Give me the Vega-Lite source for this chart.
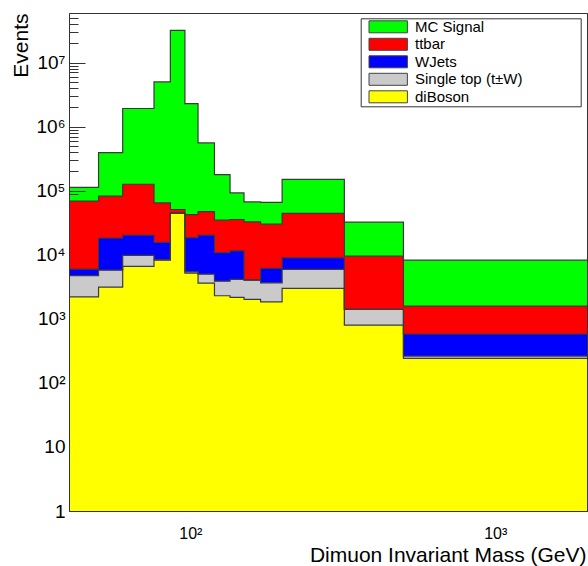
{
  "$schema": "https://vega.github.io/schema/vega-lite/v6.json",
  "width": 518,
  "height": 498,
  "autosize": {"type": "none"},
  "padding": {"left": 69, "top": 13, "right": 1, "bottom": 55},
  "background": "white",
  "datasets": {
    "processes": [
      {"process": "diBoson", "layer": 1},
      {"process": "Single top (t±W)", "layer": 2},
      {"process": "WJets", "layer": 3},
      {"process": "ttbar", "layer": 4},
      {"process": "MC Signal", "layer": 5}
    ],
    "bins": [
      {"lo": 40, "hi": 50, "process": "diBoson", "events": 2200},
      {"lo": 40, "hi": 50, "process": "Single top (t±W)", "events": 2520},
      {"lo": 40, "hi": 50, "process": "WJets", "events": 1240},
      {"lo": 40, "hi": 50, "process": "ttbar", "events": 62640},
      {"lo": 40, "hi": 50, "process": "MC Signal", "events": 44400},
      {"lo": 50, "hi": 60, "process": "diBoson", "events": 3120},
      {"lo": 50, "hi": 60, "process": "Single top (t±W)", "events": 2630},
      {"lo": 50, "hi": 60, "process": "WJets", "events": 12450},
      {"lo": 50, "hi": 60, "process": "ttbar", "events": 63800},
      {"lo": 50, "hi": 60, "process": "MC Signal", "events": 312000},
      {"lo": 60, "hi": 76, "process": "diBoson", "events": 6570},
      {"lo": 60, "hi": 76, "process": "Single top (t±W)", "events": 3180},
      {"lo": 60, "hi": 76, "process": "WJets", "events": 10450},
      {"lo": 60, "hi": 76, "process": "ttbar", "events": 105800},
      {"lo": 60, "hi": 76, "process": "MC Signal", "events": 1794000},
      {"lo": 76, "hi": 86, "process": "diBoson", "events": 8240},
      {"lo": 76, "hi": 86, "process": "Single top (t±W)", "events": 160},
      {"lo": 76, "hi": 86, "process": "WJets", "events": 7200},
      {"lo": 76, "hi": 86, "process": "ttbar", "events": 48900},
      {"lo": 76, "hi": 86, "process": "MC Signal", "events": 4915500},
      {"lo": 86, "hi": 96, "process": "diBoson", "events": 44100},
      {"lo": 86, "hi": 96, "process": "Single top (t±W)", "events": 300},
      {"lo": 86, "hi": 96, "process": "WJets", "events": 700},
      {"lo": 86, "hi": 96, "process": "ttbar", "events": 5800},
      {"lo": 86, "hi": 96, "process": "MC Signal", "events": 31849100},
      {"lo": 96, "hi": 106, "process": "diBoson", "events": 5160},
      {"lo": 96, "hi": 106, "process": "Single top (t±W)", "events": 250},
      {"lo": 96, "hi": 106, "process": "WJets", "events": 13090},
      {"lo": 96, "hi": 106, "process": "ttbar", "events": 23700},
      {"lo": 96, "hi": 106, "process": "MC Signal", "events": 2247800},
      {"lo": 106, "hi": 120, "process": "diBoson", "events": 3600},
      {"lo": 106, "hi": 120, "process": "Single top (t±W)", "events": 1380},
      {"lo": 106, "hi": 120, "process": "WJets", "events": 15220},
      {"lo": 106, "hi": 120, "process": "ttbar", "events": 26800},
      {"lo": 106, "hi": 120, "process": "MC Signal", "events": 510000},
      {"lo": 120, "hi": 135, "process": "diBoson", "events": 2290},
      {"lo": 120, "hi": 135, "process": "Single top (t±W)", "events": 1580},
      {"lo": 120, "hi": 135, "process": "WJets", "events": 6930},
      {"lo": 120, "hi": 135, "process": "ttbar", "events": 23900},
      {"lo": 120, "hi": 135, "process": "MC Signal", "events": 143300},
      {"lo": 135, "hi": 150, "process": "diBoson", "events": 2160},
      {"lo": 135, "hi": 150, "process": "Single top (t±W)", "events": 1960},
      {"lo": 135, "hi": 150, "process": "WJets", "events": 7380},
      {"lo": 135, "hi": 150, "process": "ttbar", "events": 24000},
      {"lo": 135, "hi": 150, "process": "MC Signal", "events": 56900},
      {"lo": 150, "hi": 170, "process": "diBoson", "events": 2010},
      {"lo": 150, "hi": 170, "process": "Single top (t±W)", "events": 2000},
      {"lo": 150, "hi": 170, "process": "WJets", "events": 50},
      {"lo": 150, "hi": 170, "process": "ttbar", "events": 28540},
      {"lo": 150, "hi": 170, "process": "MC Signal", "events": 34300},
      {"lo": 170, "hi": 200, "process": "diBoson", "events": 1840},
      {"lo": 170, "hi": 200, "process": "Single top (t±W)", "events": 1810},
      {"lo": 170, "hi": 200, "process": "WJets", "events": 2460},
      {"lo": 170, "hi": 200, "process": "ttbar", "events": 23890},
      {"lo": 170, "hi": 200, "process": "MC Signal", "events": 35500},
      {"lo": 200, "hi": 320, "process": "diBoson", "events": 2980},
      {"lo": 200, "hi": 320, "process": "Single top (t±W)", "events": 2920},
      {"lo": 200, "hi": 320, "process": "WJets", "events": 3050},
      {"lo": 200, "hi": 320, "process": "ttbar", "events": 35150},
      {"lo": 200, "hi": 320, "process": "MC Signal", "events": 105900},
      {"lo": 320, "hi": 500, "process": "diBoson", "events": 797},
      {"lo": 320, "hi": 500, "process": "Single top (t±W)", "events": 603},
      {"lo": 320, "hi": 500, "process": "WJets", "events": 10},
      {"lo": 320, "hi": 500, "process": "ttbar", "events": 8100},
      {"lo": 320, "hi": 500, "process": "MC Signal", "events": 22790},
      {"lo": 500, "hi": 2000, "process": "diBoson", "events": 241},
      {"lo": 500, "hi": 2000, "process": "Single top (t±W)", "events": 21},
      {"lo": 500, "hi": 2000, "process": "WJets", "events": 315},
      {"lo": 500, "hi": 2000, "process": "ttbar", "events": 1003},
      {"lo": 500, "hi": 2000, "process": "MC Signal", "events": 6660}
    ]
  },
  "data": {"name": "bins"},
  "transform": [
    {"lookup": "process", "from": {"data": {"name": "processes"}, "key": "process", "fields": ["layer"]}},
    {"window": [{"op": "sum", "field": "events", "as": "stacked"}], "groupby": ["lo"], "sort": [{"field": "layer", "order": "ascending"}], "frame": [null, 0]},
    {"fold": ["lo", "hi"], "as": ["edge", "mass"]}
  ],
  "encoding": {
    "x": {
      "field": "mass", "type": "quantitative",
      "scale": {"type": "log", "domain": [40, 2000], "nice": false},
      "title": "Dimuon Invariant Mass (GeV)",
      "axis": {
        "values": [100, 1000],
        "labelExpr": "datum.value == 100 ? '10²' : '10³'",
        "ticks": false, "domain": true, "domainColor": "#333", "domainWidth": 1, "zindex": 1,
        "grid": false,
        "labelFont": "Liberation Sans", "labelFontSize": 16, "labelColor": "#000",
        "labelBaseline": "alphabetic", "labelPadding": 27,
        "titleFont": "Liberation Sans", "titleFontSize": 21, "titleFontWeight": "normal", "titleColor": "#000",
        "titleAlign": "right", "titleBaseline": "alphabetic", "titleX": 517, "titleY": 50
      }
    },
    "order": [{"field": "mass"}, {"field": "edge"}]
  },
  "layer": [
    {
      "transform": [{"filter": {"field": "process", "equal": "MC Signal"}}],
      "mark": {"type": "area"},
      "encoding": {
        "y": {
          "field": "stacked", "type": "quantitative", "stack": null,
          "scale": {"type": "log", "domain": [1, 59400000], "nice": false},
          "title": "Events",
          "axis": {
            "values": [1,2,3,4,5,6,7,8,9,10,20,30,40,50,60,70,80,90,100,200,300,400,500,600,700,800,900,1000,2000,3000,4000,5000,6000,7000,8000,9000,10000,20000,30000,40000,50000,60000,70000,80000,90000,100000,200000,300000,400000,500000,600000,700000,800000,900000,1000000,2000000,3000000,4000000,5000000,6000000,7000000,8000000,9000000,10000000,20000000,30000000,40000000,50000000],
            "labelExpr": "indexof([1,10,100,1000,10000,100000,1000000,10000000], datum.value) < 0 ? '' : ['1','10','10²','10³','10⁴','10⁵','10⁶','10⁷'][indexof([1,10,100,1000,10000,100000,1000000,10000000], datum.value)]",
            "tickSize": {"condition": {"test": "indexof([1,10,100,1000,10000,100000,1000000,10000000], datum.value) >= 0", "value": -16}, "value": -9},
            "tickOpacity": {"condition": {"test": "datum.value >= 90000", "value": 1}, "value": 0},
            "tickColor": "#333", "tickWidth": 1,
            "domain": true, "domainColor": "#333", "domainWidth": 1, "zindex": 1,
            "grid": false, "labelOverlap": false,
            "labelFont": "Liberation Sans", "labelFontSize": 19, "labelColor": "#000",
            "labelPadding": 20, "labelBaseline": "middle",
            "titleFont": "Liberation Sans", "titleFontSize": 21, "titleFontWeight": "normal", "titleColor": "#000",
            "titleAngle": -90, "titleAlign": "right", "titleBaseline": "middle", "titleX": -48, "titleY": 0
          }
        },
        "y2": {"datum": 1},
        "color": {
          "field": "process", "type": "nominal",
          "scale": {
            "domain": ["MC Signal", "ttbar", "WJets", "Single top (t±W)", "diBoson"],
            "range": ["#00ff00", "#ff0000", "#0000ff", "#cacaca", "#ffff00"]
          },
          "legend": {
            "orient": "none", "legendX": 291.7, "legendY": 5.3,
            "title": null, "padding": 1,
            "strokeColor": "#333", "fillColor": "white",
            "symbolType": "M-1,-1H5.4V1H-1Z", "symbolSize": 144,
            "symbolStrokeColor": "#444", "symbolStrokeWidth": 1, "symbolOffset": 5.8,
            "labelFont": "Liberation Sans", "labelFontSize": 15, "labelColor": "#000",
            "labelOffset": 32.5, "rowPadding": 0.5, "labelLimit": 400,
            "labelExpr": "datum.label + '\u00a0\u00a0\u00a0\u2800\u2800\u2800\u2800'",
            "encode": {"symbols": {"update": {"stroke": {"value": "#444"}, "strokeWidth": {"value": 1}}}}
          }
        }
      }
    },
    {
      "transform": [{"filter": {"field": "process", "equal": "ttbar"}}],
      "mark": {"type": "area"},
      "encoding": {
        "y": {"field": "stacked", "type": "quantitative", "stack": null, "axis": null},
        "y2": {"datum": 1},
        "color": {"field": "process", "type": "nominal"}
      }
    },
    {
      "transform": [{"filter": {"field": "process", "equal": "WJets"}}],
      "mark": {"type": "area"},
      "encoding": {
        "y": {"field": "stacked", "type": "quantitative", "stack": null, "axis": null},
        "y2": {"datum": 1},
        "color": {"field": "process", "type": "nominal"}
      }
    },
    {
      "transform": [{"filter": {"field": "process", "equal": "Single top (t±W)"}}],
      "mark": {"type": "area"},
      "encoding": {
        "y": {"field": "stacked", "type": "quantitative", "stack": null, "axis": null},
        "y2": {"datum": 1},
        "color": {"field": "process", "type": "nominal"}
      }
    },
    {
      "transform": [{"filter": {"field": "process", "equal": "diBoson"}}],
      "mark": {"type": "area"},
      "encoding": {
        "y": {"field": "stacked", "type": "quantitative", "stack": null, "axis": null},
        "y2": {"datum": 1},
        "color": {"field": "process", "type": "nominal"}
      }
    },
    {
      "mark": {"type": "line", "color": "#3a3a3a", "strokeWidth": 1.2},
      "encoding": {
        "y": {
          "field": "stacked", "type": "quantitative", "title": "Events",
          "axis": {"orient": "right", "labels": false, "ticks": false, "title": null, "grid": false, "domain": true, "domainColor": "#333", "domainWidth": 1, "zindex": 1}
        },
        "detail": {"field": "process"}
      }
    }
  ],
  "resolve": {"axis": {"y": "independent"}},
  "config": {"view": {"stroke": "#333", "strokeWidth": 1}}
}
